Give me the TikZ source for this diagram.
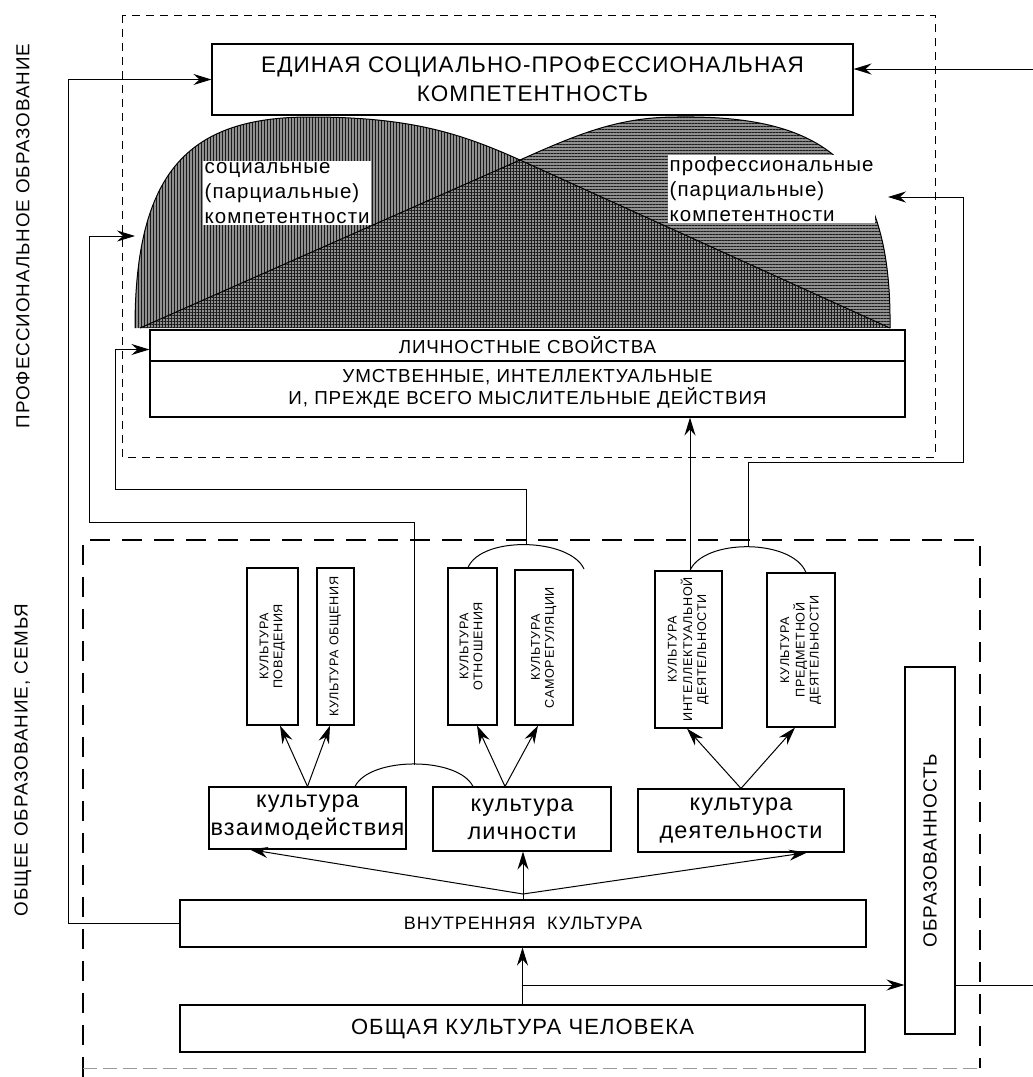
\documentclass[tikz,border=0pt]{standalone}
\usepackage{fontspec}
\setmainfont[LetterSpace=5]{Liberation Sans}
\usepackage{graphicx}
\usetikzlibrary{arrows.meta, calc, patterns.meta}
\definecolor{hatchInk}{HTML}{1A1A1A}
\definecolor{shadeGray}{HTML}{909090}
\definecolor{faintLine}{HTML}{9A9A9A}
\newcommand{\sidetext}[1]{\rotatebox{90}{\begin{tabular}{@{}c@{}}#1\end{tabular}}}

\begin{document}
\begin{tikzpicture}[x=1pt,y=-1pt,
    every node/.style={align=center,inner sep=0pt},
    box/.style={draw,line width=1.1pt},
    vbox/.style={box,font=\fontsize{12.6}{14}\selectfont},
    cult/.style={box,font=\fontsize{23.5}{28}\selectfont},
    sideLabel/.style={rotate=90,font=\fontsize{18.8}{20}\selectfont},
    dlabel/.style={fill=white,inner sep=1.5pt,anchor=west,align=left,
      font=\fontsize{20.5}{25}\selectfont},
    link/.style={line width=1pt},
    arr/.style={link,-{Stealth[length=18pt,width=11pt,inset=6pt]}}]
  \useasboundingbox (0,0) rectangle (1033,1077);

  % frames
  \draw[line width=1pt,dash pattern=on 8pt off 6pt] (122,15) rectangle (935,457);
  \draw[line width=2pt,dash pattern=on 20pt off 12pt] (83,1077) -- (83,540) -- (980,540) -- (980,1068);
  \draw[faintLine,line width=1pt,dash pattern=on 14pt off 6pt] (83,1068) -- (980,1068);

  \node[sideLabel] (proflab) at (23,236) {ПРОФЕССИОНАЛЬНОЕ ОБРАЗОВАНИЕ};
  \node[sideLabel] (genlab) at (23,760) {ОБЩЕЕ ОБРАЗОВАНИЕ, СЕМЬЯ};

  % competences
  \def\domeA{(135,328) .. controls (135,170) and (190,117) .. (310,117)
    .. controls (410,117) and (460,133) .. (520,160) -- (890,328)}
  \def\domeB{(140,328) -- (520,160) .. controls (580,133) and (620,117) .. (677,117)
    .. controls (820,115) and (892,160) .. (890,328)}
  \fill[shadeGray] \domeA -- cycle;
  \fill[shadeGray] \domeB -- cycle;
  \fill[pattern={Lines[angle=90,distance=3pt,line width=.9pt]},pattern color=hatchInk] \domeA -- cycle;
  \fill[pattern={Lines[angle=0,distance=3pt,line width=.9pt]},pattern color=hatchInk] \domeB -- cycle;
  \draw[link] \domeA;
  \draw[link] \domeB;
  \node[dlabel] (soc) at (203,193) {социальные\\(парциальные)\\компетентности};
  \node[dlabel] (prof) at (668,189) {профессиональные\\(парциальные)\\компетентности};

  \node[box,minimum width=641,minimum height=71,font=\fontsize{22.5}{29}\selectfont] (ed) at (532.5,79.5)
    {ЕДИНАЯ СОЦИАЛЬНО-ПРОФЕССИОНАЛЬНАЯ\\КОМПЕТЕНТНОСТЬ};
  \node[box,fill=white,minimum width=755,minimum height=31,font=\fontsize{18.8}{20}\selectfont] (lic) at (527.5,345.5)
    {ЛИЧНОСТНЫЕ СВОЙСТВА};
  \node[box,minimum width=755,minimum height=56,font=\fontsize{18.8}{22.5}\selectfont] (um) at (527.5,389)
    {УМСТВЕННЫЕ, ИНТЕЛЛЕКТУАЛЬНЫЕ\\И, ПРЕЖДЕ ВСЕГО МЫСЛИТЕЛЬНЫЕ ДЕЙСТВИЯ};

  % partial cultures
  \node[vbox,minimum width=51,minimum height=157] (pov) at (272.5,646.5) {\sidetext{КУЛЬТУРА\\ПОВЕДЕНИЯ}};
  \node[vbox,minimum width=37,minimum height=157] (obsh) at (335.5,646.5) {\sidetext{КУЛЬТУРА ОБЩЕНИЯ}};
  \node[vbox,minimum width=49,minimum height=157] (otn) at (472.5,646.5) {\sidetext{КУЛЬТУРА\\ОТНОШЕНИЯ}};
  \node[vbox,minimum width=58,minimum height=155] (sam) at (544,647.5) {\sidetext{КУЛЬТУРА\\САМОРЕГУЛЯЦИИ}};
  \node[vbox,minimum width=67,minimum height=157] (intl) at (688.5,649.5) {\sidetext{КУЛЬТУРА\\ИНТЕЛЛЕКТУАЛЬНОЙ\\ДЕЯТЕЛЬНОСТИ}};
  \node[vbox,minimum width=68,minimum height=154] (pred) at (801,650) {\sidetext{КУЛЬТУРА\\ПРЕДМЕТНОЙ\\ДЕЯТЕЛЬНОСТИ}};

  \node[cult,minimum width=197,minimum height=62] (vz) at (307.5,818) {культура\\взаимодействия};
  \node[cult,minimum width=178,minimum height=64] (li) at (522,819) {культура\\личности};
  \node[cult,minimum width=206,minimum height=63] (de) at (741,820.5) {культура\\деятельности};

  \node[box,minimum width=686,minimum height=47,font=\fontsize{18}{20}\selectfont] (vn) at (523,923.5)
    {ВНУТРЕННЯЯ~~КУЛЬТУРА};
  \node[box,minimum width=685,minimum height=47,font=\fontsize{22}{24}\selectfont] (ob) at (522.5,1028.5)
    {ОБЩАЯ КУЛЬТУРА ЧЕЛОВЕКА};
  \node[box,minimum width=50,minimum height=367,font=\fontsize{19}{20}\selectfont] (obr) at (930,850.5)
    {\rotatebox{90}{ОБРАЗОВАННОСТЬ}};

  % arcs over the pairs
  \coordinate (a1s) at ([xshift=47.5pt]vz.north);
  \coordinate (a1e) at ([xshift=-49pt]li.north);
  \coordinate (ap1) at (414,765);
  \draw[link] (a1s) .. controls +(15,-30) and +(-15,-30) .. (a1e);
  \coordinate (a2s) at ([xshift=-4.5pt]otn.north);
  \coordinate (a2e) at (584,569);
  \coordinate (ap2) at (526,545);
  \draw[link] (a2s) .. controls +(14,-32) and +(-14,-31) .. (a2e);
  \coordinate (a3s) at ([xshift=1.5pt]intl.north);
  \coordinate (a3e) at ([xshift=5pt]pred.north);
  \coordinate (ap3) at (748,547);
  \draw[link] (a3s) .. controls +(14,-32) and +(-14,-34) .. (a3e);

  % feedback loops
  \coordinate (lA) at (68,926);
  \coordinate (lB) at (89,522);
  \coordinate (lC) at (115,489);
  \coordinate (lD) at (963,462);
  \coordinate (domeL) at (135,236);
  \coordinate (domeR) at (888,197);
  \coordinate (rt1) at (1033,69);
  \draw[arr] (vn.west) -- (vn.west -| lA) |- (ed.west);
  \draw[arr] (rt1) -- (rt1 -| ed.east);
  \draw[arr] (ap1) |- (lB) |- (domeL);
  \draw[arr] (ap2) |- (lC) |- ([yshift=-4pt]lic.west);
  \draw[arr] (ap3) |- (lD) |- (domeR);
  \draw[arr] (a3s) -- (a3s |- um.south);

  % upward links
  \draw[arr] (vz.north) -- ([xshift=7.5pt]pov.south);
  \draw[arr] (vz.north) -- ([xshift=-5.5pt]obsh.south);
  \draw[arr] ([xshift=-17pt]li.north) -- ([xshift=4.5pt]otn.south);
  \draw[arr] ([xshift=-17pt]li.north) -- ([xshift=-6pt]sam.south);
  \draw[arr] (de.north) -- ([xshift=-1.5pt]intl.south);
  \draw[arr] (de.north) -- ([xshift=-6pt]pred.south);

  \coordinate (fan) at (523,894);
  \draw[arr] (fan) -- ([xshift=-57.5pt]vz.south);
  \draw[arr] (fan) -- ([xshift=66pt]de.south);
  \draw[arr] (vn.north) -- (vn.north |- li.south);

  \coordinate (br) at (522.5,985);
  \coordinate (rt3) at (1033,985);
  \draw[arr] (ob.north) -- (ob.north |- vn.south);
  \draw[arr] (br) -- (br -| obr.west);
  \draw[link] (br -| obr.east) -- (rt3);
\end{tikzpicture}
\end{document}
